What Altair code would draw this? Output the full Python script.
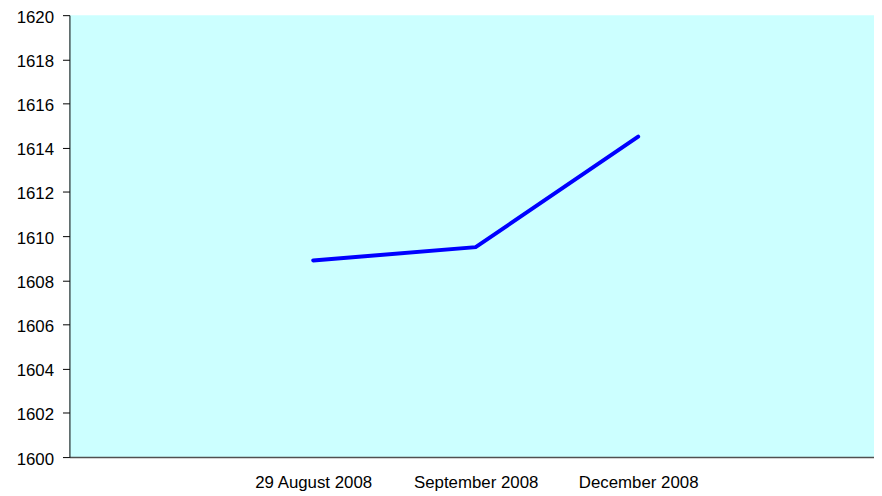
import altair as alt
import pandas as pd

categories = ["29 August 2008", "September 2008", "December 2008"]
positions = [1.5, 2.5, 3.5]
values = [1608.9, 1609.5, 1614.5]
y_ticks = [1600, 1602, 1604, 1606, 1608, 1610, 1612, 1614, 1616, 1618, 1620]

df = pd.DataFrame({"pos": positions, "label": categories, "value": values})

label_expr = " : ".join(
    f"datum.value == {p} ? '{c}'" for p, c in zip(positions, categories)
) + " : ''"

W, H = 812, 446
slot = 164

chart = alt.Chart(df).mark_line(color="#0000FF", strokeWidth=4, strokeCap="round").encode(
    x=alt.X("pos:Q",
            scale=alt.Scale(domain=[0, W / slot], nice=False, zero=False),
            axis=alt.Axis(values=positions, labelExpr=label_expr, title=None, grid=False,
                          ticks=False, domainColor="#505050", domainWidth=1.5,
                          labelPadding=18, labelFont="Liberation Sans", labelFontSize=17,
                          labelColor="#000000")),
    y=alt.Y("value:Q",
            scale=alt.Scale(domain=[1600, 1620], nice=False, zero=False),
            axis=alt.Axis(values=y_ticks, title=None, grid=False, tickSize=7,
                          tickColor="#000000", domainColor="#000000", labelPadding=9,
                          labelOffset=2,
                          labelFont="Liberation Sans", labelFontSize=17,
                          labelColor="#000000", format="d")),
).properties(
    width=W, height=H,
    autosize=alt.AutoSizeParams(type="none"),
    padding={"left": 62, "top": 5, "right": 0, "bottom": 34},
).configure(background="white").configure_view(fill="#CCFFFF", stroke=None)

chart.save("out.html", embed_options={"renderer": "svg", "actions": False})
